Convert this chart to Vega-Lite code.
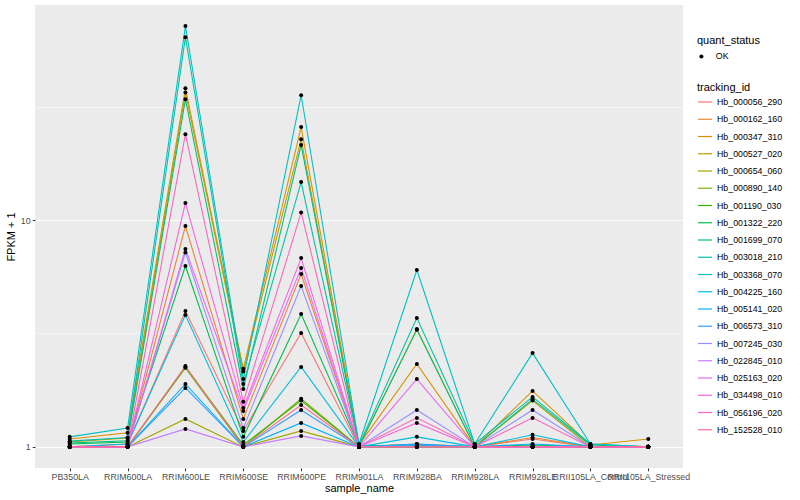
{
"$schema": "https://vega.github.io/schema/vega-lite/v6.json",
"width": 648, "height": 463,
"autosize": {"type": "none"},
"padding": {"left": 35, "top": 5, "right": 117, "bottom": 32},
"background": "white",
"config": {
  "view": {"fill": "#EBEBEB", "stroke": null},
  "font": "Liberation Sans",
  "axis": {"domain": false, "gridColor": "white", "gridWidth": 1.07, "tickColor": "#333333", "tickSize": 2.74, "tickWidth": 1.07, "labelColor": "#4D4D4D", "labelFontSize": 8.8, "labelPadding": 2.2, "titleFontSize": 11, "titleFontWeight": "normal", "titleColor": "black"},
  "legend": {"titleFontSize": 11, "titleFontWeight": "normal", "titleColor": "black", "labelFontSize": 8.8, "labelColor": "black"}
},
"data": {"values": [
{"tracking_id":"Hb_000056_290","sample_name":"PB350LA","fpkm_plus_1":1.0,"quant_status":"OK"},
{"tracking_id":"Hb_000056_290","sample_name":"RRIM600LA","fpkm_plus_1":1.03,"quant_status":"OK"},
{"tracking_id":"Hb_000056_290","sample_name":"RRIM600LE","fpkm_plus_1":3.97,"quant_status":"OK"},
{"tracking_id":"Hb_000056_290","sample_name":"RRIM600SE","fpkm_plus_1":1.176,"quant_status":"OK"},
{"tracking_id":"Hb_000056_290","sample_name":"RRIM600PE","fpkm_plus_1":3.18,"quant_status":"OK"},
{"tracking_id":"Hb_000056_290","sample_name":"RRIM901LA","fpkm_plus_1":1.0,"quant_status":"OK"},
{"tracking_id":"Hb_000056_290","sample_name":"RRIM928BA","fpkm_plus_1":1.03,"quant_status":"OK"},
{"tracking_id":"Hb_000056_290","sample_name":"RRIM928LA","fpkm_plus_1":1.0,"quant_status":"OK"},
{"tracking_id":"Hb_000056_290","sample_name":"RRIM928LE","fpkm_plus_1":1.084,"quant_status":"OK"},
{"tracking_id":"Hb_000056_290","sample_name":"RRII105LA_Control","fpkm_plus_1":1.0,"quant_status":"OK"},
{"tracking_id":"Hb_000056_290","sample_name":"RRII105LA_Stressed","fpkm_plus_1":1.0,"quant_status":"OK"},
{"tracking_id":"Hb_000162_160","sample_name":"PB350LA","fpkm_plus_1":1.0,"quant_status":"OK"},
{"tracking_id":"Hb_000162_160","sample_name":"RRIM600LA","fpkm_plus_1":1.0,"quant_status":"OK"},
{"tracking_id":"Hb_000162_160","sample_name":"RRIM600LE","fpkm_plus_1":9.41,"quant_status":"OK"},
{"tracking_id":"Hb_000162_160","sample_name":"RRIM600SE","fpkm_plus_1":1.328,"quant_status":"OK"},
{"tracking_id":"Hb_000162_160","sample_name":"RRIM600PE","fpkm_plus_1":5.78,"quant_status":"OK"},
{"tracking_id":"Hb_000162_160","sample_name":"RRIM901LA","fpkm_plus_1":1.0,"quant_status":"OK"},
{"tracking_id":"Hb_000162_160","sample_name":"RRIM928BA","fpkm_plus_1":1.0,"quant_status":"OK"},
{"tracking_id":"Hb_000162_160","sample_name":"RRIM928LA","fpkm_plus_1":1.0,"quant_status":"OK"},
{"tracking_id":"Hb_000162_160","sample_name":"RRIM928LE","fpkm_plus_1":1.10,"quant_status":"OK"},
{"tracking_id":"Hb_000162_160","sample_name":"RRII105LA_Control","fpkm_plus_1":1.0,"quant_status":"OK"},
{"tracking_id":"Hb_000162_160","sample_name":"RRII105LA_Stressed","fpkm_plus_1":1.0,"quant_status":"OK"},
{"tracking_id":"Hb_000347_310","sample_name":"PB350LA","fpkm_plus_1":1.084,"quant_status":"OK"},
{"tracking_id":"Hb_000347_310","sample_name":"RRIM600LA","fpkm_plus_1":1.153,"quant_status":"OK"},
{"tracking_id":"Hb_000347_310","sample_name":"RRIM600LE","fpkm_plus_1":38.1,"quant_status":"OK"},
{"tracking_id":"Hb_000347_310","sample_name":"RRIM600SE","fpkm_plus_1":2.21,"quant_status":"OK"},
{"tracking_id":"Hb_000347_310","sample_name":"RRIM600PE","fpkm_plus_1":25.7,"quant_status":"OK"},
{"tracking_id":"Hb_000347_310","sample_name":"RRIM901LA","fpkm_plus_1":1.02,"quant_status":"OK"},
{"tracking_id":"Hb_000347_310","sample_name":"RRIM928BA","fpkm_plus_1":2.32,"quant_status":"OK"},
{"tracking_id":"Hb_000347_310","sample_name":"RRIM928LA","fpkm_plus_1":1.0,"quant_status":"OK"},
{"tracking_id":"Hb_000347_310","sample_name":"RRIM928LE","fpkm_plus_1":1.765,"quant_status":"OK"},
{"tracking_id":"Hb_000347_310","sample_name":"RRII105LA_Control","fpkm_plus_1":1.02,"quant_status":"OK"},
{"tracking_id":"Hb_000347_310","sample_name":"RRII105LA_Stressed","fpkm_plus_1":1.084,"quant_status":"OK"},
{"tracking_id":"Hb_000527_020","sample_name":"PB350LA","fpkm_plus_1":1.05,"quant_status":"OK"},
{"tracking_id":"Hb_000527_020","sample_name":"RRIM600LA","fpkm_plus_1":1.095,"quant_status":"OK"},
{"tracking_id":"Hb_000527_020","sample_name":"RRIM600LE","fpkm_plus_1":36.5,"quant_status":"OK"},
{"tracking_id":"Hb_000527_020","sample_name":"RRIM600SE","fpkm_plus_1":2.15,"quant_status":"OK"},
{"tracking_id":"Hb_000527_020","sample_name":"RRIM600PE","fpkm_plus_1":22.7,"quant_status":"OK"},
{"tracking_id":"Hb_000527_020","sample_name":"RRIM901LA","fpkm_plus_1":1.0,"quant_status":"OK"},
{"tracking_id":"Hb_000527_020","sample_name":"RRIM928BA","fpkm_plus_1":3.31,"quant_status":"OK"},
{"tracking_id":"Hb_000527_020","sample_name":"RRIM928LA","fpkm_plus_1":1.0,"quant_status":"OK"},
{"tracking_id":"Hb_000527_020","sample_name":"RRIM928LE","fpkm_plus_1":1.60,"quant_status":"OK"},
{"tracking_id":"Hb_000527_020","sample_name":"RRII105LA_Control","fpkm_plus_1":1.0,"quant_status":"OK"},
{"tracking_id":"Hb_000527_020","sample_name":"RRII105LA_Stressed","fpkm_plus_1":1.0,"quant_status":"OK"},
{"tracking_id":"Hb_000654_060","sample_name":"PB350LA","fpkm_plus_1":1.0,"quant_status":"OK"},
{"tracking_id":"Hb_000654_060","sample_name":"RRIM600LA","fpkm_plus_1":1.0,"quant_status":"OK"},
{"tracking_id":"Hb_000654_060","sample_name":"RRIM600LE","fpkm_plus_1":1.328,"quant_status":"OK"},
{"tracking_id":"Hb_000654_060","sample_name":"RRIM600SE","fpkm_plus_1":1.0,"quant_status":"OK"},
{"tracking_id":"Hb_000654_060","sample_name":"RRIM600PE","fpkm_plus_1":1.176,"quant_status":"OK"},
{"tracking_id":"Hb_000654_060","sample_name":"RRIM901LA","fpkm_plus_1":1.0,"quant_status":"OK"},
{"tracking_id":"Hb_000654_060","sample_name":"RRIM928BA","fpkm_plus_1":1.0,"quant_status":"OK"},
{"tracking_id":"Hb_000654_060","sample_name":"RRIM928LA","fpkm_plus_1":1.0,"quant_status":"OK"},
{"tracking_id":"Hb_000654_060","sample_name":"RRIM928LE","fpkm_plus_1":1.0,"quant_status":"OK"},
{"tracking_id":"Hb_000654_060","sample_name":"RRII105LA_Control","fpkm_plus_1":1.0,"quant_status":"OK"},
{"tracking_id":"Hb_000654_060","sample_name":"RRII105LA_Stressed","fpkm_plus_1":1.0,"quant_status":"OK"},
{"tracking_id":"Hb_000890_140","sample_name":"PB350LA","fpkm_plus_1":1.0,"quant_status":"OK"},
{"tracking_id":"Hb_000890_140","sample_name":"RRIM600LA","fpkm_plus_1":1.0,"quant_status":"OK"},
{"tracking_id":"Hb_000890_140","sample_name":"RRIM600LE","fpkm_plus_1":2.23,"quant_status":"OK"},
{"tracking_id":"Hb_000890_140","sample_name":"RRIM600SE","fpkm_plus_1":1.0,"quant_status":"OK"},
{"tracking_id":"Hb_000890_140","sample_name":"RRIM600PE","fpkm_plus_1":1.63,"quant_status":"OK"},
{"tracking_id":"Hb_000890_140","sample_name":"RRIM901LA","fpkm_plus_1":1.0,"quant_status":"OK"},
{"tracking_id":"Hb_000890_140","sample_name":"RRIM928BA","fpkm_plus_1":1.0,"quant_status":"OK"},
{"tracking_id":"Hb_000890_140","sample_name":"RRIM928LA","fpkm_plus_1":1.0,"quant_status":"OK"},
{"tracking_id":"Hb_000890_140","sample_name":"RRIM928LE","fpkm_plus_1":1.0,"quant_status":"OK"},
{"tracking_id":"Hb_000890_140","sample_name":"RRII105LA_Control","fpkm_plus_1":1.0,"quant_status":"OK"},
{"tracking_id":"Hb_000890_140","sample_name":"RRII105LA_Stressed","fpkm_plus_1":1.0,"quant_status":"OK"},
{"tracking_id":"Hb_001190_030","sample_name":"PB350LA","fpkm_plus_1":1.0,"quant_status":"OK"},
{"tracking_id":"Hb_001190_030","sample_name":"RRIM600LA","fpkm_plus_1":1.0,"quant_status":"OK"},
{"tracking_id":"Hb_001190_030","sample_name":"RRIM600LE","fpkm_plus_1":2.25,"quant_status":"OK"},
{"tracking_id":"Hb_001190_030","sample_name":"RRIM600SE","fpkm_plus_1":1.02,"quant_status":"OK"},
{"tracking_id":"Hb_001190_030","sample_name":"RRIM600PE","fpkm_plus_1":1.60,"quant_status":"OK"},
{"tracking_id":"Hb_001190_030","sample_name":"RRIM901LA","fpkm_plus_1":1.0,"quant_status":"OK"},
{"tracking_id":"Hb_001190_030","sample_name":"RRIM928BA","fpkm_plus_1":1.0,"quant_status":"OK"},
{"tracking_id":"Hb_001190_030","sample_name":"RRIM928LA","fpkm_plus_1":1.0,"quant_status":"OK"},
{"tracking_id":"Hb_001190_030","sample_name":"RRIM928LE","fpkm_plus_1":1.0,"quant_status":"OK"},
{"tracking_id":"Hb_001190_030","sample_name":"RRII105LA_Control","fpkm_plus_1":1.0,"quant_status":"OK"},
{"tracking_id":"Hb_001190_030","sample_name":"RRII105LA_Stressed","fpkm_plus_1":1.0,"quant_status":"OK"},
{"tracking_id":"Hb_001322_220","sample_name":"PB350LA","fpkm_plus_1":1.03,"quant_status":"OK"},
{"tracking_id":"Hb_001322_220","sample_name":"RRIM600LA","fpkm_plus_1":1.05,"quant_status":"OK"},
{"tracking_id":"Hb_001322_220","sample_name":"RRIM600LE","fpkm_plus_1":6.27,"quant_status":"OK"},
{"tracking_id":"Hb_001322_220","sample_name":"RRIM600SE","fpkm_plus_1":1.107,"quant_status":"OK"},
{"tracking_id":"Hb_001322_220","sample_name":"RRIM600PE","fpkm_plus_1":3.85,"quant_status":"OK"},
{"tracking_id":"Hb_001322_220","sample_name":"RRIM901LA","fpkm_plus_1":1.01,"quant_status":"OK"},
{"tracking_id":"Hb_001322_220","sample_name":"RRIM928BA","fpkm_plus_1":1.02,"quant_status":"OK"},
{"tracking_id":"Hb_001322_220","sample_name":"RRIM928LA","fpkm_plus_1":1.0,"quant_status":"OK"},
{"tracking_id":"Hb_001322_220","sample_name":"RRIM928LE","fpkm_plus_1":1.02,"quant_status":"OK"},
{"tracking_id":"Hb_001322_220","sample_name":"RRII105LA_Control","fpkm_plus_1":1.0,"quant_status":"OK"},
{"tracking_id":"Hb_001322_220","sample_name":"RRII105LA_Stressed","fpkm_plus_1":1.0,"quant_status":"OK"},
{"tracking_id":"Hb_001699_070","sample_name":"PB350LA","fpkm_plus_1":1.04,"quant_status":"OK"},
{"tracking_id":"Hb_001699_070","sample_name":"RRIM600LA","fpkm_plus_1":1.063,"quant_status":"OK"},
{"tracking_id":"Hb_001699_070","sample_name":"RRIM600LE","fpkm_plus_1":34.1,"quant_status":"OK"},
{"tracking_id":"Hb_001699_070","sample_name":"RRIM600SE","fpkm_plus_1":1.80,"quant_status":"OK"},
{"tracking_id":"Hb_001699_070","sample_name":"RRIM600PE","fpkm_plus_1":21.4,"quant_status":"OK"},
{"tracking_id":"Hb_001699_070","sample_name":"RRIM901LA","fpkm_plus_1":1.01,"quant_status":"OK"},
{"tracking_id":"Hb_001699_070","sample_name":"RRIM928BA","fpkm_plus_1":3.28,"quant_status":"OK"},
{"tracking_id":"Hb_001699_070","sample_name":"RRIM928LA","fpkm_plus_1":1.0,"quant_status":"OK"},
{"tracking_id":"Hb_001699_070","sample_name":"RRIM928LE","fpkm_plus_1":1.62,"quant_status":"OK"},
{"tracking_id":"Hb_001699_070","sample_name":"RRII105LA_Control","fpkm_plus_1":1.02,"quant_status":"OK"},
{"tracking_id":"Hb_001699_070","sample_name":"RRII105LA_Stressed","fpkm_plus_1":1.0,"quant_status":"OK"},
{"tracking_id":"Hb_003018_210","sample_name":"PB350LA","fpkm_plus_1":1.06,"quant_status":"OK"},
{"tracking_id":"Hb_003018_210","sample_name":"RRIM600LA","fpkm_plus_1":1.10,"quant_status":"OK"},
{"tracking_id":"Hb_003018_210","sample_name":"RRIM600LE","fpkm_plus_1":64.0,"quant_status":"OK"},
{"tracking_id":"Hb_003018_210","sample_name":"RRIM600SE","fpkm_plus_1":1.894,"quant_status":"OK"},
{"tracking_id":"Hb_003018_210","sample_name":"RRIM600PE","fpkm_plus_1":14.7,"quant_status":"OK"},
{"tracking_id":"Hb_003018_210","sample_name":"RRIM901LA","fpkm_plus_1":1.02,"quant_status":"OK"},
{"tracking_id":"Hb_003018_210","sample_name":"RRIM928BA","fpkm_plus_1":3.70,"quant_status":"OK"},
{"tracking_id":"Hb_003018_210","sample_name":"RRIM928LA","fpkm_plus_1":1.03,"quant_status":"OK"},
{"tracking_id":"Hb_003018_210","sample_name":"RRIM928LE","fpkm_plus_1":1.66,"quant_status":"OK"},
{"tracking_id":"Hb_003018_210","sample_name":"RRII105LA_Control","fpkm_plus_1":1.03,"quant_status":"OK"},
{"tracking_id":"Hb_003018_210","sample_name":"RRII105LA_Stressed","fpkm_plus_1":1.0,"quant_status":"OK"},
{"tracking_id":"Hb_003368_070","sample_name":"PB350LA","fpkm_plus_1":1.107,"quant_status":"OK"},
{"tracking_id":"Hb_003368_070","sample_name":"RRIM600LA","fpkm_plus_1":1.21,"quant_status":"OK"},
{"tracking_id":"Hb_003368_070","sample_name":"RRIM600LE","fpkm_plus_1":71.6,"quant_status":"OK"},
{"tracking_id":"Hb_003368_070","sample_name":"RRIM600SE","fpkm_plus_1":1.99,"quant_status":"OK"},
{"tracking_id":"Hb_003368_070","sample_name":"RRIM600PE","fpkm_plus_1":35.5,"quant_status":"OK"},
{"tracking_id":"Hb_003368_070","sample_name":"RRIM901LA","fpkm_plus_1":1.03,"quant_status":"OK"},
{"tracking_id":"Hb_003368_070","sample_name":"RRIM928BA","fpkm_plus_1":6.02,"quant_status":"OK"},
{"tracking_id":"Hb_003368_070","sample_name":"RRIM928LA","fpkm_plus_1":1.03,"quant_status":"OK"},
{"tracking_id":"Hb_003368_070","sample_name":"RRIM928LE","fpkm_plus_1":2.59,"quant_status":"OK"},
{"tracking_id":"Hb_003368_070","sample_name":"RRII105LA_Control","fpkm_plus_1":1.03,"quant_status":"OK"},
{"tracking_id":"Hb_003368_070","sample_name":"RRII105LA_Stressed","fpkm_plus_1":1.0,"quant_status":"OK"},
{"tracking_id":"Hb_004225_160","sample_name":"PB350LA","fpkm_plus_1":1.0,"quant_status":"OK"},
{"tracking_id":"Hb_004225_160","sample_name":"RRIM600LA","fpkm_plus_1":1.03,"quant_status":"OK"},
{"tracking_id":"Hb_004225_160","sample_name":"RRIM600LE","fpkm_plus_1":3.81,"quant_status":"OK"},
{"tracking_id":"Hb_004225_160","sample_name":"RRIM600SE","fpkm_plus_1":1.05,"quant_status":"OK"},
{"tracking_id":"Hb_004225_160","sample_name":"RRIM600PE","fpkm_plus_1":2.25,"quant_status":"OK"},
{"tracking_id":"Hb_004225_160","sample_name":"RRIM901LA","fpkm_plus_1":1.0,"quant_status":"OK"},
{"tracking_id":"Hb_004225_160","sample_name":"RRIM928BA","fpkm_plus_1":1.107,"quant_status":"OK"},
{"tracking_id":"Hb_004225_160","sample_name":"RRIM928LA","fpkm_plus_1":1.0,"quant_status":"OK"},
{"tracking_id":"Hb_004225_160","sample_name":"RRIM928LE","fpkm_plus_1":1.13,"quant_status":"OK"},
{"tracking_id":"Hb_004225_160","sample_name":"RRII105LA_Control","fpkm_plus_1":1.0,"quant_status":"OK"},
{"tracking_id":"Hb_004225_160","sample_name":"RRII105LA_Stressed","fpkm_plus_1":1.0,"quant_status":"OK"},
{"tracking_id":"Hb_005141_020","sample_name":"PB350LA","fpkm_plus_1":1.0,"quant_status":"OK"},
{"tracking_id":"Hb_005141_020","sample_name":"RRIM600LA","fpkm_plus_1":1.0,"quant_status":"OK"},
{"tracking_id":"Hb_005141_020","sample_name":"RRIM600LE","fpkm_plus_1":1.894,"quant_status":"OK"},
{"tracking_id":"Hb_005141_020","sample_name":"RRIM600SE","fpkm_plus_1":1.0,"quant_status":"OK"},
{"tracking_id":"Hb_005141_020","sample_name":"RRIM600PE","fpkm_plus_1":1.275,"quant_status":"OK"},
{"tracking_id":"Hb_005141_020","sample_name":"RRIM901LA","fpkm_plus_1":1.0,"quant_status":"OK"},
{"tracking_id":"Hb_005141_020","sample_name":"RRIM928BA","fpkm_plus_1":1.03,"quant_status":"OK"},
{"tracking_id":"Hb_005141_020","sample_name":"RRIM928LA","fpkm_plus_1":1.0,"quant_status":"OK"},
{"tracking_id":"Hb_005141_020","sample_name":"RRIM928LE","fpkm_plus_1":1.03,"quant_status":"OK"},
{"tracking_id":"Hb_005141_020","sample_name":"RRII105LA_Control","fpkm_plus_1":1.0,"quant_status":"OK"},
{"tracking_id":"Hb_005141_020","sample_name":"RRII105LA_Stressed","fpkm_plus_1":1.0,"quant_status":"OK"},
{"tracking_id":"Hb_006573_310","sample_name":"PB350LA","fpkm_plus_1":1.0,"quant_status":"OK"},
{"tracking_id":"Hb_006573_310","sample_name":"RRIM600LA","fpkm_plus_1":1.0,"quant_status":"OK"},
{"tracking_id":"Hb_006573_310","sample_name":"RRIM600LE","fpkm_plus_1":1.82,"quant_status":"OK"},
{"tracking_id":"Hb_006573_310","sample_name":"RRIM600SE","fpkm_plus_1":1.0,"quant_status":"OK"},
{"tracking_id":"Hb_006573_310","sample_name":"RRIM600PE","fpkm_plus_1":1.455,"quant_status":"OK"},
{"tracking_id":"Hb_006573_310","sample_name":"RRIM901LA","fpkm_plus_1":1.0,"quant_status":"OK"},
{"tracking_id":"Hb_006573_310","sample_name":"RRIM928BA","fpkm_plus_1":1.02,"quant_status":"OK"},
{"tracking_id":"Hb_006573_310","sample_name":"RRIM928LA","fpkm_plus_1":1.0,"quant_status":"OK"},
{"tracking_id":"Hb_006573_310","sample_name":"RRIM928LE","fpkm_plus_1":1.0,"quant_status":"OK"},
{"tracking_id":"Hb_006573_310","sample_name":"RRII105LA_Control","fpkm_plus_1":1.0,"quant_status":"OK"},
{"tracking_id":"Hb_006573_310","sample_name":"RRII105LA_Stressed","fpkm_plus_1":1.0,"quant_status":"OK"},
{"tracking_id":"Hb_007245_030","sample_name":"PB350LA","fpkm_plus_1":1.0,"quant_status":"OK"},
{"tracking_id":"Hb_007245_030","sample_name":"RRIM600LA","fpkm_plus_1":1.0,"quant_status":"OK"},
{"tracking_id":"Hb_007245_030","sample_name":"RRIM600LE","fpkm_plus_1":7.2,"quant_status":"OK"},
{"tracking_id":"Hb_007245_030","sample_name":"RRIM600SE","fpkm_plus_1":1.21,"quant_status":"OK"},
{"tracking_id":"Hb_007245_030","sample_name":"RRIM600PE","fpkm_plus_1":5.12,"quant_status":"OK"},
{"tracking_id":"Hb_007245_030","sample_name":"RRIM901LA","fpkm_plus_1":1.0,"quant_status":"OK"},
{"tracking_id":"Hb_007245_030","sample_name":"RRIM928BA","fpkm_plus_1":1.455,"quant_status":"OK"},
{"tracking_id":"Hb_007245_030","sample_name":"RRIM928LA","fpkm_plus_1":1.0,"quant_status":"OK"},
{"tracking_id":"Hb_007245_030","sample_name":"RRIM928LE","fpkm_plus_1":1.455,"quant_status":"OK"},
{"tracking_id":"Hb_007245_030","sample_name":"RRII105LA_Control","fpkm_plus_1":1.0,"quant_status":"OK"},
{"tracking_id":"Hb_007245_030","sample_name":"RRII105LA_Stressed","fpkm_plus_1":1.0,"quant_status":"OK"},
{"tracking_id":"Hb_022845_010","sample_name":"PB350LA","fpkm_plus_1":1.0,"quant_status":"OK"},
{"tracking_id":"Hb_022845_010","sample_name":"RRIM600LA","fpkm_plus_1":1.0,"quant_status":"OK"},
{"tracking_id":"Hb_022845_010","sample_name":"RRIM600LE","fpkm_plus_1":1.20,"quant_status":"OK"},
{"tracking_id":"Hb_022845_010","sample_name":"RRIM600SE","fpkm_plus_1":1.0,"quant_status":"OK"},
{"tracking_id":"Hb_022845_010","sample_name":"RRIM600PE","fpkm_plus_1":1.118,"quant_status":"OK"},
{"tracking_id":"Hb_022845_010","sample_name":"RRIM901LA","fpkm_plus_1":1.0,"quant_status":"OK"},
{"tracking_id":"Hb_022845_010","sample_name":"RRIM928BA","fpkm_plus_1":1.0,"quant_status":"OK"},
{"tracking_id":"Hb_022845_010","sample_name":"RRIM928LA","fpkm_plus_1":1.0,"quant_status":"OK"},
{"tracking_id":"Hb_022845_010","sample_name":"RRIM928LE","fpkm_plus_1":1.0,"quant_status":"OK"},
{"tracking_id":"Hb_022845_010","sample_name":"RRII105LA_Control","fpkm_plus_1":1.0,"quant_status":"OK"},
{"tracking_id":"Hb_022845_010","sample_name":"RRII105LA_Stressed","fpkm_plus_1":1.0,"quant_status":"OK"},
{"tracking_id":"Hb_025163_020","sample_name":"PB350LA","fpkm_plus_1":1.0,"quant_status":"OK"},
{"tracking_id":"Hb_025163_020","sample_name":"RRIM600LA","fpkm_plus_1":1.0,"quant_status":"OK"},
{"tracking_id":"Hb_025163_020","sample_name":"RRIM600LE","fpkm_plus_1":7.45,"quant_status":"OK"},
{"tracking_id":"Hb_025163_020","sample_name":"RRIM600SE","fpkm_plus_1":1.44,"quant_status":"OK"},
{"tracking_id":"Hb_025163_020","sample_name":"RRIM600PE","fpkm_plus_1":6.15,"quant_status":"OK"},
{"tracking_id":"Hb_025163_020","sample_name":"RRIM901LA","fpkm_plus_1":1.0,"quant_status":"OK"},
{"tracking_id":"Hb_025163_020","sample_name":"RRIM928BA","fpkm_plus_1":1.99,"quant_status":"OK"},
{"tracking_id":"Hb_025163_020","sample_name":"RRIM928LA","fpkm_plus_1":1.0,"quant_status":"OK"},
{"tracking_id":"Hb_025163_020","sample_name":"RRIM928LE","fpkm_plus_1":1.0,"quant_status":"OK"},
{"tracking_id":"Hb_025163_020","sample_name":"RRII105LA_Control","fpkm_plus_1":1.0,"quant_status":"OK"},
{"tracking_id":"Hb_025163_020","sample_name":"RRII105LA_Stressed","fpkm_plus_1":1.0,"quant_status":"OK"},
{"tracking_id":"Hb_034498_010","sample_name":"PB350LA","fpkm_plus_1":1.0,"quant_status":"OK"},
{"tracking_id":"Hb_034498_010","sample_name":"RRIM600LA","fpkm_plus_1":1.0,"quant_status":"OK"},
{"tracking_id":"Hb_034498_010","sample_name":"RRIM600LE","fpkm_plus_1":11.9,"quant_status":"OK"},
{"tracking_id":"Hb_034498_010","sample_name":"RRIM600SE","fpkm_plus_1":1.485,"quant_status":"OK"},
{"tracking_id":"Hb_034498_010","sample_name":"RRIM600PE","fpkm_plus_1":6.80,"quant_status":"OK"},
{"tracking_id":"Hb_034498_010","sample_name":"RRIM901LA","fpkm_plus_1":1.0,"quant_status":"OK"},
{"tracking_id":"Hb_034498_010","sample_name":"RRIM928BA","fpkm_plus_1":1.275,"quant_status":"OK"},
{"tracking_id":"Hb_034498_010","sample_name":"RRIM928LA","fpkm_plus_1":1.0,"quant_status":"OK"},
{"tracking_id":"Hb_034498_010","sample_name":"RRIM928LE","fpkm_plus_1":1.0,"quant_status":"OK"},
{"tracking_id":"Hb_034498_010","sample_name":"RRII105LA_Control","fpkm_plus_1":1.0,"quant_status":"OK"},
{"tracking_id":"Hb_034498_010","sample_name":"RRII105LA_Stressed","fpkm_plus_1":1.0,"quant_status":"OK"},
{"tracking_id":"Hb_056196_020","sample_name":"PB350LA","fpkm_plus_1":1.0,"quant_status":"OK"},
{"tracking_id":"Hb_056196_020","sample_name":"RRIM600LA","fpkm_plus_1":1.0,"quant_status":"OK"},
{"tracking_id":"Hb_056196_020","sample_name":"RRIM600LE","fpkm_plus_1":23.9,"quant_status":"OK"},
{"tracking_id":"Hb_056196_020","sample_name":"RRIM600SE","fpkm_plus_1":1.58,"quant_status":"OK"},
{"tracking_id":"Hb_056196_020","sample_name":"RRIM600PE","fpkm_plus_1":10.8,"quant_status":"OK"},
{"tracking_id":"Hb_056196_020","sample_name":"RRIM901LA","fpkm_plus_1":1.0,"quant_status":"OK"},
{"tracking_id":"Hb_056196_020","sample_name":"RRIM928BA","fpkm_plus_1":1.342,"quant_status":"OK"},
{"tracking_id":"Hb_056196_020","sample_name":"RRIM928LA","fpkm_plus_1":1.0,"quant_status":"OK"},
{"tracking_id":"Hb_056196_020","sample_name":"RRIM928LE","fpkm_plus_1":1.342,"quant_status":"OK"},
{"tracking_id":"Hb_056196_020","sample_name":"RRII105LA_Control","fpkm_plus_1":1.0,"quant_status":"OK"},
{"tracking_id":"Hb_056196_020","sample_name":"RRII105LA_Stressed","fpkm_plus_1":1.0,"quant_status":"OK"},
{"tracking_id":"Hb_152528_010","sample_name":"PB350LA","fpkm_plus_1":1.0,"quant_status":"OK"},
{"tracking_id":"Hb_152528_010","sample_name":"RRIM600LA","fpkm_plus_1":1.0,"quant_status":"OK"},
{"tracking_id":"Hb_152528_010","sample_name":"RRIM600LE","fpkm_plus_1":2.27,"quant_status":"OK"},
{"tracking_id":"Hb_152528_010","sample_name":"RRIM600SE","fpkm_plus_1":1.0,"quant_status":"OK"},
{"tracking_id":"Hb_152528_010","sample_name":"RRIM600PE","fpkm_plus_1":1.53,"quant_status":"OK"},
{"tracking_id":"Hb_152528_010","sample_name":"RRIM901LA","fpkm_plus_1":1.0,"quant_status":"OK"},
{"tracking_id":"Hb_152528_010","sample_name":"RRIM928BA","fpkm_plus_1":1.0,"quant_status":"OK"},
{"tracking_id":"Hb_152528_010","sample_name":"RRIM928LA","fpkm_plus_1":1.0,"quant_status":"OK"},
{"tracking_id":"Hb_152528_010","sample_name":"RRIM928LE","fpkm_plus_1":1.0,"quant_status":"OK"},
{"tracking_id":"Hb_152528_010","sample_name":"RRII105LA_Control","fpkm_plus_1":1.0,"quant_status":"OK"},
{"tracking_id":"Hb_152528_010","sample_name":"RRII105LA_Stressed","fpkm_plus_1":1.0,"quant_status":"OK"}
]},
"encoding": {
  "x": {"field": "sample_name", "type": "nominal",
        "sort": ["PB350LA","RRIM600LA","RRIM600LE","RRIM600SE","RRIM600PE","RRIM901LA","RRIM928BA","RRIM928LA","RRIM928LE","RRII105LA_Control","RRII105LA_Stressed"],
        "scale": {"type": "point", "padding": 0.6},
        "axis": {"title": "sample_name", "labelAngle": 0, "labelOverlap": false, "labelBound": false, "labelFlush": false, "titlePadding": 1}},
  "y": {"field": "fpkm_plus_1", "type": "quantitative",
        "scale": {"type": "log", "domain": [0.807, 88.7], "nice": false, "zero": false},
        "axis": {"title": "FPKM + 1", "values": [1, 3.1623, 10, 31.623], "format": "~g",
                 "labelExpr": "(datum.value == 1 || datum.value == 10) ? datum.label : ''",
                 "gridWidth": {"condition": {"test": "datum.value == 1 || datum.value == 10", "value": 1.07}, "value": 0.53},
                 "tickColor": {"condition": {"test": "datum.value == 1 || datum.value == 10", "value": "#333333"}, "value": "transparent"},
                 "titlePadding": 4}}
},
"layer": [
  {"mark": {"type": "line", "strokeWidth": 1.07},
   "encoding": {"color": {"field": "tracking_id", "type": "nominal",
      "scale": {"range": ["#F8766D","#EA8331","#D89000","#C09B00","#A3A500","#7CAE00","#39B600","#00BB4E","#00BF7D","#00C1A3","#00BFC4","#00BAE0","#00B0F6","#35A2FF","#9590FF","#C77CFF","#E76BF3","#FA62DB","#FF62BC","#FF6C91"]},
      "legend": {"title": "tracking_id", "orient": "none", "legendX": 662, "legendY": 77, "symbolType": "stroke", "symbolSize": 200, "symbolStrokeWidth": 1.2, "rowPadding": 4.25, "labelOffset": 4, "titlePadding": 1}}}},
  {"mark": {"type": "point", "filled": true, "color": "black", "opacity": 1, "size": 16},
   "encoding": {"shape": {"field": "quant_status", "type": "nominal", "scale": {"range": ["circle"]},
      "legend": {"title": "quant_status", "orient": "none", "legendX": 662, "legendY": 30, "symbolFillColor": "black", "symbolStrokeColor": "black", "symbolSize": 16, "labelOffset": 10, "titlePadding": 6}}}}
]
}
